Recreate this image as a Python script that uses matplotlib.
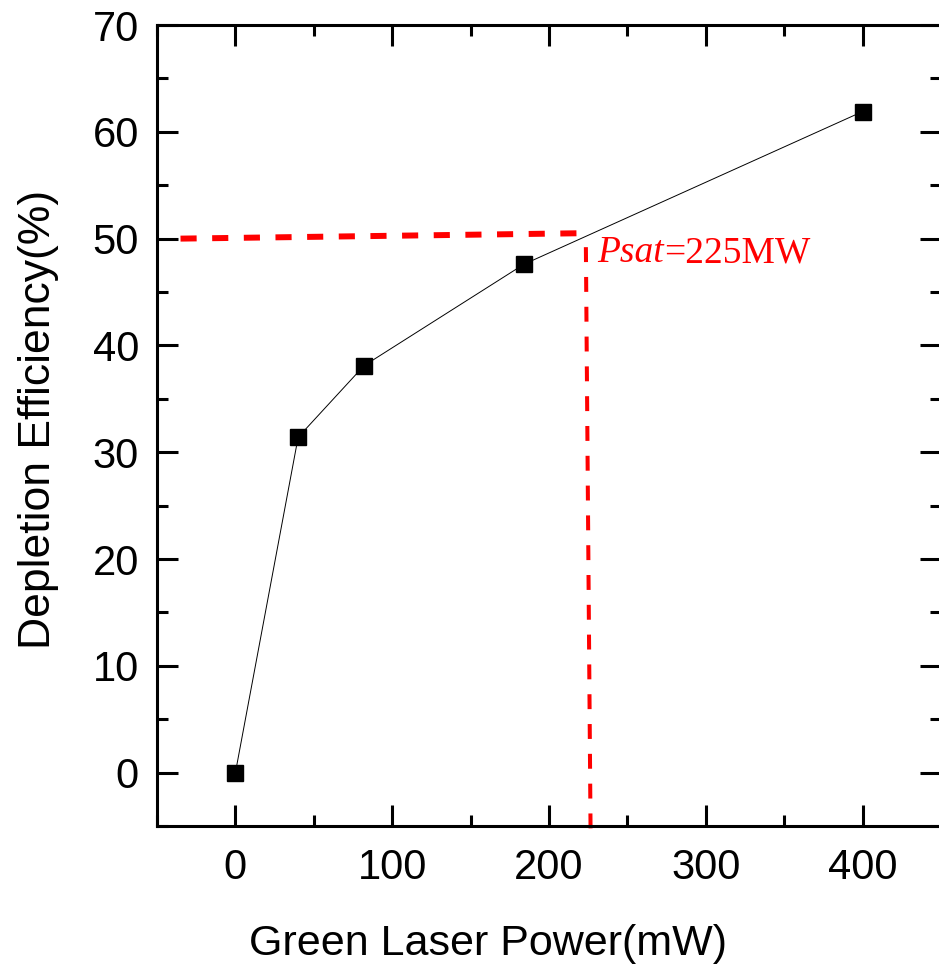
import numpy as np
import matplotlib
matplotlib.use('Agg')
import matplotlib.pyplot as plt
from matplotlib.ticker import MultipleLocator

# data
power = [0, 40, 82, 184, 400]          # mW
efficiency = [0, 31.4, 38.1, 47.6, 61.9]  # %

# guide lines for the saturation power
h_guide_x = [-35, 218]
h_guide_y = [50.0, 50.5]
v_guide_x = [223.5, 226.5]
v_guide_y = [49.2, -5.7]
psat_label = ('Psat', '=225MW')

plt.rcParams['font.family'] = ['Liberation Sans', 'DejaVu Sans']

fig = plt.figure(figsize=(9.39, 9.66), dpi=100)
ax = fig.add_axes([0.1672, 0.1449, 0.8350, 0.8292])

ax.plot(power, efficiency, color='black', lw=0.7, marker='s', markersize=11.5,
        markerfacecolor='black', markeredgecolor='black', zorder=3)

ax.plot(h_guide_x, h_guide_y, color='red', lw=4.3, dashes=(2.7, 2.6), zorder=2)
ax.plot(v_guide_x, v_guide_y, color='red', lw=2.9, dashes=(3.7, 3.7),
        clip_on=False, zorder=2)

t1 = ax.text(231, 47.8, psat_label[0], color='red', fontsize=27,
             family='Liberation Serif', style='italic', va='baseline')
ax.annotate(psat_label[1], xycoords=t1, xy=(1, 0), va='bottom', ha='left',
            color='red', fontsize=27, family='Liberation Serif')

ax.set_xlim(-50, 450)
ax.set_ylim(-5, 70)
ax.xaxis.set_major_locator(MultipleLocator(100))
ax.xaxis.set_minor_locator(MultipleLocator(50))
ax.yaxis.set_major_locator(MultipleLocator(10))
ax.yaxis.set_minor_locator(MultipleLocator(5))

ax.tick_params(which='both', direction='in', top=True, right=True, width=2.2)
ax.tick_params(which='major', length=15, labelsize=30)
ax.tick_params(axis='y', which='major', pad=13)
ax.tick_params(axis='x', which='major', pad=16)
ax.tick_params(which='minor', length=8)
for s in ax.spines.values():
    s.set_linewidth(2.2)

ax.set_xlabel('Green Laser Power(mW)', fontsize=31, labelpad=26)
ax.set_ylabel('Depletion Efficiency(%)', fontsize=32, labelpad=24)
ax.xaxis.label.set_x(0.422)
ax.yaxis.label.set_y(0.508)

fig.savefig('out.png', dpi=100)
